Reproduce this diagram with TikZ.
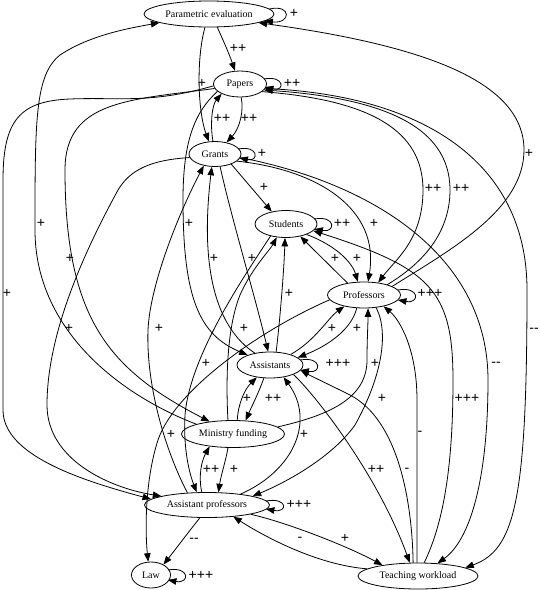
\documentclass[tikz,border=0pt]{standalone}
\usepackage{fontspec}
\setmainfont{Liberation Serif}
\newfontfamily\lblsans{Liberation Sans}
\usetikzlibrary{arrows.meta,shapes.geometric}
\begin{document}
\begin{tikzpicture}[x=1pt,y=-1pt,
  nd/.style={ellipse, draw, line width=0.8pt, inner sep=0pt, font=\fontsize{10}{12}\selectfont},
  arr/.style={draw, line width=0.8pt, -{Triangle[length=8.5pt,width=6.5pt]}},
  lbl/.style={inner sep=0pt, font=\lblsans\fontsize{14}{15}\selectfont}]
\useasboundingbox (0,0) rectangle (540,590);
% nodes
\node[nd, minimum width=130pt, minimum height=26pt] (pe) at (209,14) {Parametric evaluation};
\node[nd, minimum width=53pt, minimum height=26pt] (pa) at (240,84) {Papers};
\node[nd, minimum width=52pt, minimum height=25pt] (gr) at (215,154) {Grants};
\node[nd, minimum width=62pt, minimum height=27pt] (st) at (286,224) {Students};
\node[nd, minimum width=73pt, minimum height=26pt] (pr) at (364,295) {Professors};
\node[nd, minimum width=66pt, minimum height=26pt] (as) at (270,365) {Assistants};
\node[nd, minimum width=103pt, minimum height=27pt] (mf) at (233,434) {Ministry funding};
\node[nd, minimum width=125pt, minimum height=25pt] (ap) at (207,505) {Assistant professors};
\node[nd, minimum width=39pt, minimum height=26pt] (la) at (151,575) {Law};
\node[nd, minimum width=120pt, minimum height=26pt] (tw) at (418,576) {Teaching workload};
% self loops
\draw[arr] ([shift={(-5pt,5pt)}]pe.east) .. controls (292,4) and (291,24) .. ([shift={(-10pt,-7pt)}]pe.east);
\draw[arr] ([shift={(-3pt,5pt)}]pa.east) .. controls (285,75) and (285,92) .. ([shift={(-2pt,-3pt)}]pa.east);
\draw[arr] ([shift={(-3pt,5pt)}]gr.east) .. controls (259,145) and (259,162) .. ([shift={(-2pt,-4pt)}]gr.east);
\draw[arr] ([shift={(-3pt,5pt)}]st.east) .. controls (336,215) and (336,233) .. ([shift={(-3pt,-5pt)}]st.east);
\draw[arr] ([shift={(-3pt,5pt)}]pr.east) .. controls (420,286) and (420,304) .. ([shift={(-3pt,-5pt)}]pr.east);
\draw[arr] ([shift={(-3pt,5pt)}]as.east) .. controls (322,356) and (322,374) .. ([shift={(-3pt,-5pt)}]as.east);
\draw[arr] ([shift={(-4pt,4pt)}]ap.east) .. controls (288,497) and (288,513) .. ([shift={(-4pt,-4pt)}]ap.east);
\draw[arr] ([shift={(-3pt,5pt)}]la.east) .. controls (190,566) and (190,584) .. ([shift={(-3pt,-5pt)}]la.east);
% edges
\draw[arr] (pe.302) .. controls (224,42) and (230,56) .. (pa.111);
\draw[arr] (pe.253) .. controls (196,60) and (198,112) .. (gr.116);
\draw[arr] (gr.99) .. controls (210,125) and (212,105) .. (pa.208);
\draw[arr] (pa.275) .. controls (244,110) and (240,128) .. (gr.45);
\draw[arr] (gr.328) -- (st.139);
\draw[arr] (pa.341) .. controls (370,100) and (423,130) .. (423,190) .. controls (423,240) and (395,260) .. (pr.41);
\draw[arr] (pr.24) .. controls (420,265) and (450,235) .. (450,190) .. controls (450,125) and (380,98) .. (pa.346);
\draw[arr] (pr.17) .. controls (450,250) and (524,210) .. (524,150) .. controls (524,80) and (420,45) .. (pe.350);
\draw[arr] (pa.350) .. controls (420,95) and (527,160) .. (527,290) .. controls (527,500) and (515,550) .. (tw.10);
\draw[arr] (gr.342) .. controls (320,170) and (380,210) .. (pr.73);
\draw[arr] (gr.352) .. controls (380,185) and (488,260) .. (488,380) .. controls (488,480) and (470,540) .. (tw.33);
\draw[arr] (tw.65) .. controls (445,520) and (453,460) .. (453,380) .. controls (453,290) and (430,268) .. (st.346);
\draw[arr] (st.333) .. controls (335,245) and (352,262) .. (pr.115);
\draw[arr] (pr.144) -- (st.319);
\draw[arr] (as.65) .. controls (280,320) and (284,270) .. (st.266);
\draw[arr] (gr.292) .. controls (232,220) and (256,300) .. (as.98);
\draw[arr] (as.142) .. controls (205,320) and (203,240) .. (gr.256);
\draw[arr] (pa.198) .. controls (195,112) and (183,140) .. (183,200) .. controls (183,300) and (200,335) .. (as.156);
\draw[arr] (pa.190) .. controls (130,100) and (65,100) .. (65,170) .. controls (65,320) and (110,370) .. (mf.152);
\draw[arr] (mf.165) .. controls (120,395) and (35,330) .. (35,230) .. controls (35,120) and (35,75) .. (60,55) .. controls (90,35) and (130,28) .. (pe.190);
\draw[arr] (pa.184) .. controls (150,104) and (120,97) .. (70,99) .. controls (20,101) and (3,120) .. (3,180) -- (3,410) .. controls (3,455) and (80,480) .. (ap.174);
\draw[arr] (gr.188) .. controls (150,160) and (130,170) .. (118,190) .. controls (88,245) and (47,330) .. (47,405) .. controls (47,460) and (110,488) .. (ap.169);
\draw[arr] (ap.148) .. controls (165,450) and (146,385) .. (148,330) .. controls (150,285) and (178,215) .. (gr.226);
\draw[arr] (st.218) .. controls (245,275) and (190,355) .. (185,415) .. controls (183,450) and (190,475) .. (ap.129);
\draw[arr] (mf.110) .. controls (226,385) and (226,330) .. (240,295) .. controls (252,268) and (270,250) .. (st.235);
\draw[arr] (mf.73) .. controls (238,405) and (244,390) .. (as.223);
\draw[arr] (as.245) .. controls (259,392) and (251,408) .. (mf.47);
\draw[arr] (as.27) .. controls (316,340) and (328,318) .. (pr.210);
\draw[arr] (pr.241) .. controls (352,328) and (330,345) .. (as.15);
\draw[arr] (mf.9) .. controls (330,415) and (367,398) .. (367,360) .. controls (367,340) and (368,325) .. (pr.287);
\draw[arr] (pr.314) .. controls (390,335) and (380,380) .. (355,425) .. controls (330,460) and (280,485) .. (ap.11);
\draw[arr] (tw.94) .. controls (417,520) and (417,460) .. (417,400) .. controls (417,350) and (400,320) .. (pr.330);
\draw[arr] (tw.110) .. controls (412,500) and (398,420) .. (350,395) .. controls (330,385) and (315,378) .. (as.350);
\draw[arr] (as.338) .. controls (320,400) and (380,480) .. (tw.122);
\draw[arr] (ap.18) .. controls (295,470) and (315,420) .. (as.318);
\draw[arr] (ap.112) .. controls (198,475) and (202,460) .. (mf.208);
\draw[arr] (mf.250) .. controls (226,460) and (221,475) .. (ap.48);
\draw[arr] (ap.241) .. controls (190,530) and (175,550) .. (la.40);
\draw[arr] (ap.348) .. controls (285,522) and (345,545) .. (tw.163);
\draw[arr] (tw.172) .. controls (320,565) and (270,540) .. (ap.336);
\draw[arr] (pr.188) .. controls (260,330) and (175,390) .. (158,440) .. controls (145,480) and (145,530) .. (la.102);
% labels
\node[lbl] (l1) at (294,13) {+};
\node[lbl] (l2) at (238,48) {++};
\node[lbl] (l3) at (202,83) {+};
\node[lbl] (l4) at (292,83) {++};
\node[lbl] (l5) at (222,118) {++};
\node[lbl] (l6) at (249,118) {++};
\node[lbl] (l7) at (262,153) {+};
\node[lbl] (l8) at (264,187) {+};
\node[lbl] (l9) at (433,188) {++};
\node[lbl] (l10) at (461,188) {++};
\node[lbl] (l11) at (529,153) {+};
\node[lbl] (l12) at (41,223) {+};
\node[lbl] (l13) at (189,223) {+};
\node[lbl] (l14) at (342,223) {++};
\node[lbl] (l15) at (374,223) {+};
\node[lbl] (l16) at (70,258) {+};
\node[lbl] (l17) at (214,258) {+};
\node[lbl] (l18) at (252,258) {+};
\node[lbl] (l19) at (335,258) {+};
\node[lbl] (l20) at (357,258) {+};
\node[lbl] (l21) at (7,293) {+};
\node[lbl] (l22) at (289,293) {+};
\node[lbl] (l23) at (430,293) {+++};
\node[lbl] (l24) at (69,328) {+};
\node[lbl] (l25) at (159,328) {+};
\node[lbl] (l26) at (244,328) {+};
\node[lbl] (l27) at (332,328) {+};
\node[lbl] (l28) at (357,328) {+};
\node[lbl] (l29) at (534,330) {{-}{-}};
\node[lbl] (l30) at (206,363) {+};
\node[lbl] (l31) at (338,363) {+++};
\node[lbl] (l32) at (375,363) {+};
\node[lbl] (l33) at (496,364) {{-}{-}};
\node[lbl] (l34) at (247,398) {+};
\node[lbl] (l35) at (273,398) {++};
\node[lbl] (l36) at (382,398) {+};
\node[lbl] (l37) at (467,398) {+++};
\node[lbl] (l38) at (171,434) {+};
\node[lbl] (l39) at (304,434) {+};
\node[lbl] (l40) at (420,433) {-};
\node[lbl] (l41) at (211,469) {++};
\node[lbl] (l42) at (234,469) {+};
\node[lbl] (l43) at (376,469) {++};
\node[lbl] (l44) at (407,470) {-};
\node[lbl] (l45) at (299,504) {+++};
\node[lbl] (l46) at (194,540) {{-}{-}};
\node[lbl] (l47) at (300,539) {-};
\node[lbl] (l48) at (345,538) {+};
\node[lbl] (l49) at (201,575) {+++};
\end{tikzpicture}
\end{document}
